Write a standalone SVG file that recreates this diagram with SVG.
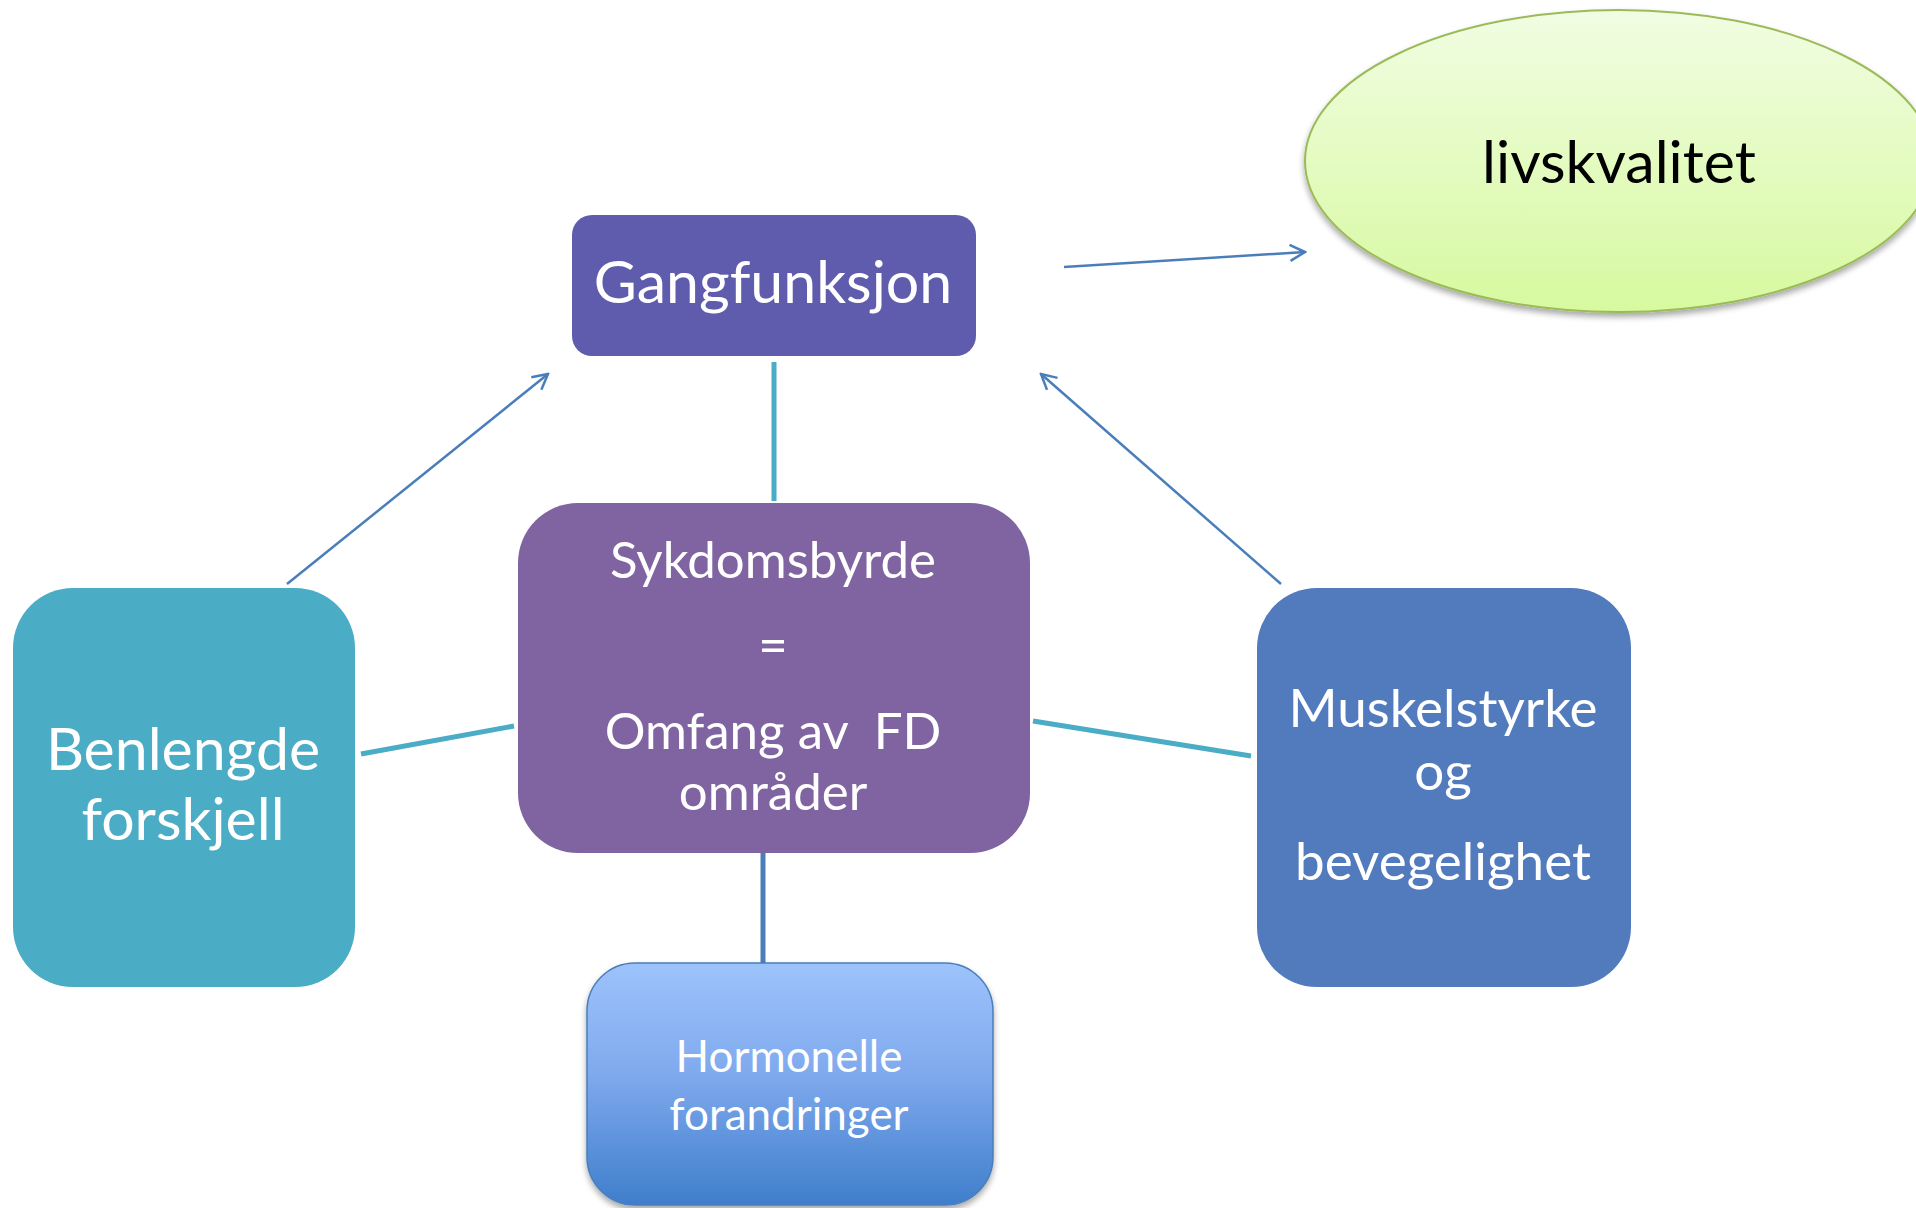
<svg xmlns="http://www.w3.org/2000/svg" width="1916" height="1208" viewBox="0 0 1916 1208">
<style>
  text { font-family: Lato, "Open Sans", "Liberation Sans", sans-serif; text-anchor: middle; fill: #ffffff; }
  .arrow { stroke: #4a7ebb; stroke-width: 2.5; fill: none; }
  .link { stroke: #4bacc6; stroke-width: 5; fill: none; }
  .link2 { stroke: #4a7ebb; stroke-width: 5; fill: none; }
</style>
<defs>
  <marker id="open" viewBox="0 0 20 20" refX="18" refY="10" markerWidth="20" markerHeight="20" markerUnits="userSpaceOnUse" orient="auto">
    <path d="M3,2 L18,10 L3,18" fill="none" stroke="#4a7ebb" stroke-width="2.5"/>
  </marker>
  <linearGradient id="gEll" x1="0" y1="0" x2="0" y2="1">
    <stop offset="0" stop-color="#f1fde3"/>
    <stop offset="1" stop-color="#d7f99f"/>
  </linearGradient>
  <linearGradient id="gHorm" x1="0" y1="0" x2="0" y2="1">
    <stop offset="0" stop-color="#9dc3fc"/>
    <stop offset="0.45" stop-color="#80aaee"/>
    <stop offset="1" stop-color="#3f7ecb"/>
  </linearGradient>
  <filter id="shadow" x="-10%" y="-10%" width="120%" height="130%">
    <feGaussianBlur in="SourceAlpha" stdDeviation="3"/>
    <feOffset dx="0" dy="4" result="b"/>
    <feComponentTransfer><feFuncA type="linear" slope="0.35"/></feComponentTransfer>
    <feMerge><feMergeNode/><feMergeNode in="SourceGraphic"/></feMerge>
  </filter>
</defs>
<rect width="1916" height="1208" fill="#ffffff"/>

<g id="connectors">
  <line class="arrow" x1="1064" y1="267" x2="1305" y2="252" marker-end="url(#open)"/>
  <line class="arrow" x1="287" y1="584" x2="548" y2="374" marker-end="url(#open)"/>
  <line class="arrow" x1="1281" y1="584" x2="1041" y2="374" marker-end="url(#open)"/>
  <line class="link" x1="774" y1="362" x2="774" y2="501"/>
  <line class="link" x1="361" y1="754" x2="514" y2="726"/>
  <line class="link" x1="1033" y1="721" x2="1251" y2="756"/>
  <line class="link2" x1="763" y1="853" x2="763" y2="965"/>
</g>

<g id="livskvalitet">
  <ellipse cx="1619" cy="161" rx="314" ry="151" fill="url(#gEll)" stroke="#9bbb59" stroke-width="2" filter="url(#shadow)"/>
  <text x="1619" y="183" font-size="59" style="fill:#000000">livskvalitet</text>
</g>

<g id="gangfunksjon">
  <rect x="572" y="215" width="404" height="141" rx="20" fill="#605cad"/>
  <text x="773" y="303" font-size="59">Gangfunksjon</text>
</g>

<g id="sykdomsbyrde">
  <rect x="518" y="503" width="512" height="350" rx="60" fill="#8064a2"/>
  <text x="773" y="578" font-size="51">Sykdomsbyrde</text>
  <text x="773" y="663" font-size="51">=</text>
  <text x="773" y="749" font-size="51" xml:space="preserve">Omfang av  FD</text>
  <text x="773" y="810" font-size="51">områder</text>
</g>

<g id="benlengde">
  <rect x="13" y="588" width="342" height="399" rx="60" fill="#4bacc6"/>
  <text x="183" y="770" font-size="59">Benlengde</text>
  <text x="183" y="840" font-size="59">forskjell</text>
</g>

<g id="muskelstyrke">
  <rect x="1257" y="588" width="374" height="399" rx="60" fill="#527bbd"/>
  <text x="1443" y="727" font-size="53">Muskelstyrke</text>
  <text x="1443" y="790" font-size="53">og</text>
  <text x="1443" y="880" font-size="53">bevegelighet</text>
</g>

<g id="hormonelle">
  <rect x="587" y="963" width="406" height="242" rx="48" fill="url(#gHorm)" stroke="#4a7ebb" stroke-width="1.5" filter="url(#shadow)"/>
  <text x="789" y="1072" font-size="44">Hormonelle</text>
  <text x="789" y="1130" font-size="44">forandringer</text>
</g>
</svg>
